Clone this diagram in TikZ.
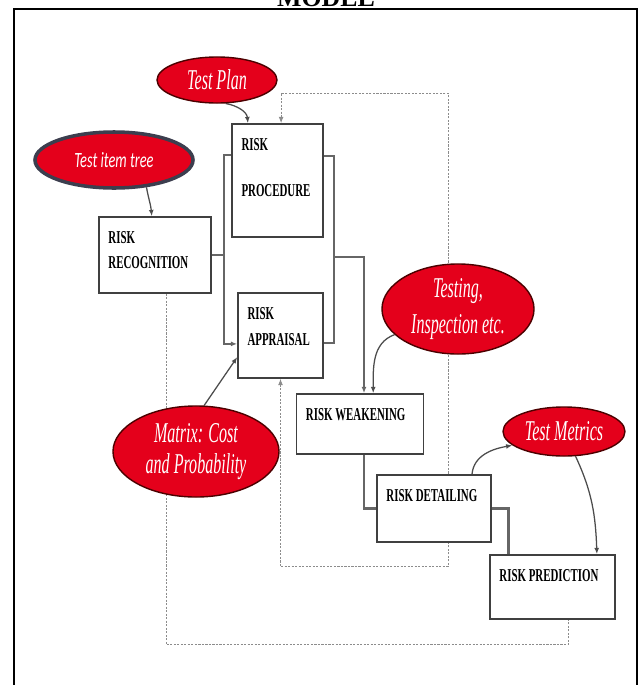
\documentclass[tikz,border=0pt]{standalone}
\usepackage{fontspec}
\setmainfont{Liberation Serif}
\newfontfamily\boxfont[FakeStretch=0.6]{Liberation Serif}
\newfontfamily\ovalfont[FakeStretch=0.56]{Liberation Serif}
\newfontfamily\treefont[FakeStretch=0.66]{Carlito}
\usetikzlibrary{shapes.geometric,arrows.meta,backgrounds}
\definecolor{ovalred}{RGB}{228,0,27}
\definecolor{treeedge}{RGB}{60,62,78}

\begin{document}
\begin{tikzpicture}[>={Latex[length=4.5pt,width=3.5pt]}, x=0.025cm, y=-0.025cm,
  riskbox/.style={draw=black!75, line width=1.1pt, fill=white, inner sep=0pt},
  boxtext/.style={anchor=north west, inner sep=0pt, align=left,
    xshift=0.25cm, yshift=-0.375cm,
    font=\boxfont\bfseries\fontsize{12.9}{17.5}\selectfont},
  oval/.style={ellipse, draw=black!70!red, line width=1pt, fill=ovalred,
    text=white, inner sep=0pt, align=center,
    font=\ovalfont\itshape\fontsize{20.4}{21.5}\selectfont},
  link/.style={draw=black!60, line width=1.8pt},
  pointer/.style={draw=black!70, line width=0.9pt},
  feed/.style={draw=black!45, line width=0.7pt, dash pattern=on 1.5pt off 1pt}]
  \useasboundingbox (0,0) rectangle (640,685);
  \draw[line width=2pt] (14,700) -- (14,9) -- (637,9) -- (637,700);
  \node[font=\bfseries\fontsize{18.4}{20}\selectfont, anchor=base] (title) at (326,6) {MODEL};

  % ovals
  \node[oval, minimum width=3cm, minimum height=1.15cm] (plan) at (217,80) {Test Plan};
  \node[oval, draw=treeedge, line width=2.5pt, minimum width=3.95cm, minimum height=1.4cm,
    font=\treefont\itshape\fontsize{15.5}{18}\selectfont] (tree) at (114,160) {Test item tree};
  \node[oval, minimum width=3.8cm, minimum height=2.25cm] (test) at (458,309)
    {Testing,\\[4.5pt]Inspection etc.};
  \node[oval, minimum width=4.15cm, minimum height=2.275cm] (matrix) at (196,451.5)
    {Matrix: Cost\\and Probability};
  \node[oval, minimum width=3.05cm, minimum height=1.225cm] (metrics) at (564,431.5) {Test Metrics};

  % boxes
  \node[riskbox, minimum width=2.275cm, minimum height=2.825cm,
    label={[boxtext]north west:RISK\\[15pt]PROCEDURE}] (proc) at (277.5,180.5) {};
  \node[riskbox, minimum width=2.8cm, minimum height=1.9cm,
    label={[boxtext]north west:RISK\\RECOGNITION}] (recog) at (155,255) {};
  \node[riskbox, minimum width=2.125cm, minimum height=2.125cm,
    label={[boxtext]north west:RISK\\[1pt]APPRAISAL}] (appr) at (280.5,335.5) {};
  \node[riskbox, minimum width=3.175cm, minimum height=1.5cm,
    label={[boxtext]north west:RISK WEAKENING}] (weak) at (360,424) {};
  \node[riskbox, minimum width=2.85cm, minimum height=1.675cm,
    label={[boxtext]north west:RISK DETAILING}] (detail) at (434,508.5) {};
  \node[riskbox, minimum width=3.125cm, minimum height=1.6cm,
    label={[boxtext]north west:RISK PREDICTION}] (pred) at (552.5,587) {};

  \begin{scope}[on background layer]
    % bus lines
    \coordinate (lbus) at (224,255);
    \coordinate (rbus) at (334,257);
    \coordinate (pw) at ([yshift=0.64cm]proc.west);
    \coordinate (aw) at ([yshift=-0.21cm]appr.west);
    \coordinate (pe) at ([yshift=0.61cm]proc.east);
    \coordinate (ae) at ([yshift=-0.19cm]appr.east);
    \draw[link] (recog.east) -- (lbus);
    \draw[link,->] (pw) -| (lbus |- aw) -- (aw);
    \draw[link] (pe) -| (rbus |- ae) -- (ae);
    \draw[link,->] (rbus) -| ([xshift=0.1cm]weak.north);
    \draw[link] ([xshift=0.1cm]weak.south) |- (detail.west);
    \draw[link] (detail.east) -| ([xshift=-1.1cm]pred.north);

    % inputs and outputs
    \draw[pointer,->] (plan.-70) to[out=-10,in=95] ([xshift=-0.74cm]proc.north);
    \draw[pointer,->] (tree.-40) to[out=-80,in=95] ([xshift=-0.08cm]recog.north);
    \draw[pointer,->] (matrix.80) -- ([yshift=-0.54cm]appr.west);
    \draw[pointer,->] (test.202) to[out=200,in=90] ([xshift=0.33cm]weak.north);
    \draw[pointer,->] ([xshift=0.95cm]detail.north) to[out=85,in=190] (metrics.195);
    \draw[pointer,->] (metrics.-65) to[out=-65,in=92] ([xshift=1.11cm]pred.north);

    % feedback loops
    \coordinate (fbtop) at (448,93);
    \draw[feed] ([xshift=0.28cm]recog.south) -- ++(0,351) -| ([xshift=0.39cm]pred.south);
    \draw[feed,<->] (appr.south) -- ++(0,188) -| (fbtop) -| ([xshift=0.09cm]proc.north);
  \end{scope}
\end{tikzpicture}
\end{document}
